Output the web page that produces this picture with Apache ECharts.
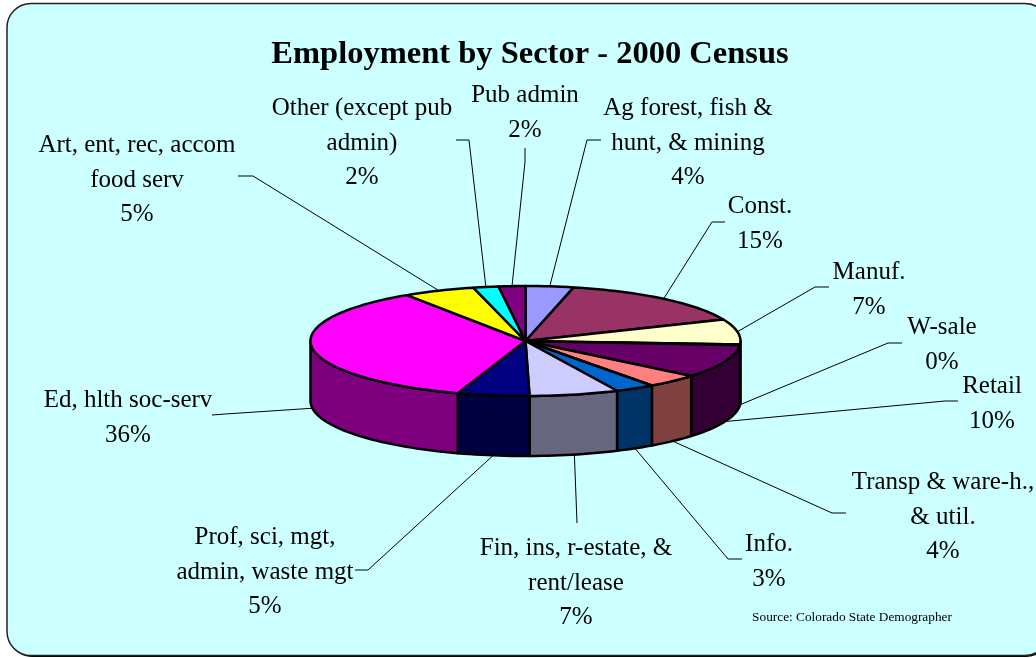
<!DOCTYPE html>
<html>
<head>
<meta charset="utf-8">
<title>Employment by Sector - 2000 Census</title>
<script src="https://cdn.jsdelivr.net/npm/echarts@6/dist/echarts.min.js"></script>
<style>
  html, body { margin: 0; padding: 0; background: #fff; }
  #chart { width: 1036px; height: 658px; }
</style>
</head>
<body>
<div id="chart"></div>
<script>
// values in slice order, clockwise from 12 o'clock
var sectorNames = ['Ag forest, fish &\nhunt, & mining', 'Const.', 'Manuf.', 'W-sale', 'Retail',
  'Transp & ware-h.,\n& util.', 'Info.', 'Fin, ins, r-estate, &\nrent/lease', 'Prof, sci, mgt,\nadmin, waste mgt',
  'Ed, hlth soc-serv', 'Art, ent, rec, accom\nfood serv', 'Other (except pub\nadmin)', 'Pub admin'];
var sectorValues = [3.6, 15, 7.4, 0.2, 9.8, 4, 3, 6.7, 5.4, 35.6, 5.4, 1.9, 2];
var sectorColors = ['#9999FF', '#993366', '#FFFFCC', '#CCFFFF', '#660066', '#FF8080', '#0066CC',
  '#CCCCFF', '#000080', '#FF00FF', '#FFFF00', '#00FFFF', '#800080'];

// label centre, then leader elbow and leader end
var labelSpots = [[688, 143], [760, 224], [869, 290], [942, 345], [992, 404], [943, 517], [769, 562],
  [576, 583], [265, 572], [128, 418], [137, 180], [362, 143], [525, 113]];
var leaderBends = [[587, 140], [712, 222], [815, 287], [888, 343], [945, 401], [832, 513], [728, 559],
  [577, 523], [368, 570], [225, 414], [253, 176], [469, 140], [525, 162]];
var leaderEnds = [[601, 140], [725, 222], [829, 287], [902, 343], [958, 401], [846, 513], [742, 559],
  [577, 523], [355, 570], [212, 415], [238, 176], [456, 140], [525, 148]];

var cx = 525.5, cy = 341, rx = 215, ry = 55, depth = 60;
var serif = '"Liberation Serif", "Times New Roman", serif';

var total = sectorValues.reduce(function (a, b) { return a + b; }, 0);
var startShare = [];
sectorValues.reduce(function (sum, v, i) { startShare[i] = sum; return sum + v; }, 0);

function rim(angle, drop) {
  return [cx + rx * Math.sin(angle), cy - ry * Math.cos(angle) + (drop || 0)];
}
function angleOf(share) {
  return share / total * Math.PI * 2;
}
function arcPoints(a0, a1, drop) {
  var pts = [], steps = Math.max(1, Math.ceil((a1 - a0) / 0.03));
  for (var k = 0; k <= steps; k++) {
    pts.push(rim(a0 + (a1 - a0) * k / steps, drop));
  }
  return pts;
}
function halfColor(hex) {
  var n = parseInt(hex.slice(1), 16);
  return 'rgb(' + ((n >> 16) >> 1) + ',' + (((n >> 8) & 255) >> 1) + ',' + ((n & 255) >> 1) + ')';
}

var sliceData = sectorValues.map(function (v, i) { return [i, v]; });

function renderTop(params, api) {
  var i = api.value(0);
  var a0 = angleOf(startShare[i]), a1 = a0 + angleOf(api.value(1));
  return {
    type: 'polygon',
    shape: { points: [[cx, cy]].concat(arcPoints(a0, a1)) },
    style: { fill: sectorColors[i], stroke: '#000', lineWidth: 2.5, lineJoin: 'round' }
  };
}
// only the part of a slice between 3 and 9 o'clock has a visible wall
function renderWall(params, api) {
  var i = api.value(0);
  var a0 = angleOf(startShare[i]), a1 = a0 + angleOf(api.value(1));
  a0 = Math.max(a0, Math.PI / 2);
  a1 = Math.min(a1, Math.PI * 1.5);
  if (a1 <= a0) return null;
  var pts = arcPoints(a0, a1).concat(arcPoints(a0, a1, depth).reverse());
  return {
    type: 'polygon',
    shape: { points: pts },
    style: { fill: halfColor(sectorColors[i]), stroke: '#000', lineWidth: 2.5, lineJoin: 'round' }
  };
}
function renderLeader(params, api) {
  var i = api.value(0);
  var mid = angleOf(startShare[i] + api.value(1) / 2);
  var front = Math.cos(mid) < 0;
  return {
    type: 'polyline',
    shape: { points: [rim(mid, front ? depth : 0), leaderBends[i], leaderEnds[i]] },
    style: { fill: null, stroke: '#000', lineWidth: 1 }
  };
}
function renderLabel(params, api) {
  var i = api.value(0);
  return {
    type: 'text',
    style: {
      x: labelSpots[i][0],
      y: labelSpots[i][1],
      text: sectorNames[i] + '\n' + Math.round(api.value(1) / total * 100) + '%',
      align: 'center',
      verticalAlign: 'middle',
      fill: '#000',
      font: '25px ' + serif,
      lineHeight: 34.7
    }
  };
}

var chart = echarts.init(document.getElementById('chart'));
function layer(name, fn, z) {
  return { type: 'custom', name: name, coordinateSystem: 'none', renderItem: fn, data: sliceData, z: z, silent: true, clip: false };
}
chart.setOption({
  animation: false,
  backgroundColor: '#fff',
  title: {
    text: 'Employment by Sector - 2000 Census',
    left: 525, top: 33, textAlign: 'center',
    textStyle: { fontFamily: serif, fontWeight: 'bold', fontSize: 32.5, color: '#000' }
  },
  graphic: [
    { type: 'rect', z: -2, shape: { x: 8, y: 5, width: 1042, height: 652, r: 24 }, style: { fill: '#000' } },
    { type: 'rect', z: -1, shape: { x: 7, y: 3.5, width: 1042, height: 652, r: 24 }, style: { fill: '#CCFFFF', stroke: '#222', lineWidth: 1.5 } },
    { type: 'text', z: 5, style: { x: 852, y: 618, text: 'Source: Colorado State Demographer', align: 'center', verticalAlign: 'middle', fill: '#000', font: '13.3px ' + serif } }
  ],
  series: [
    layer('leaders', renderLeader, 1),
    layer('walls', renderWall, 2),
    layer('tops', renderTop, 3),
    layer('labels', renderLabel, 4)
  ]
});
</script>
</body>
</html>
